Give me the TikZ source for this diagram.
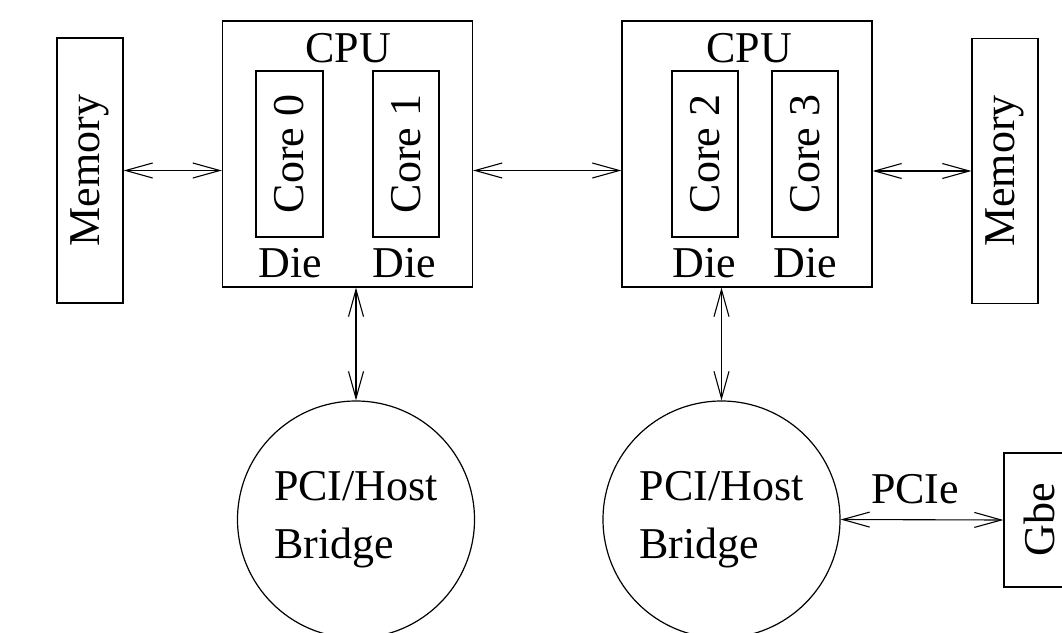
\documentclass[tikz,border=0pt]{standalone}
\usepackage{fontspec}
\setmainfont{Liberation Serif}
\usetikzlibrary{arrows.meta}
\begin{document}
\begin{tikzpicture}[x=1pt,y=-1pt,
  every node/.style={font=\fontsize{44}{58}\selectfont},
  box/.style={draw, line width=1.2pt, inner sep=0pt},
  vbox/.style={box, rotate=90},
  lbl/.style={inner sep=0pt, anchor=base},
  bridge/.style={draw, circle, line width=1.2pt, inner sep=0pt, minimum size=237pt, align=left},
  barb/.tip={Straight Barb[length=27pt,width=15pt]},
  arr/.style={barb-barb, line width=1.1pt}]
\useasboundingbox (0,0) rectangle (1062,632);
\fill[white] (0,0) rectangle (1062,632);
\clip (0,0) rectangle (1062,632);
% memories
\node[vbox, minimum width=265pt, minimum height=66pt] (mem1) at (90,170.5) {Memory};
\node[vbox, minimum width=265pt, minimum height=66pt] (mem2) at (1005,171) {Memory};
% CPUs
\node[box, minimum width=250pt, minimum height=266pt] (cpu1) at (347.5,154) {};
\node[box, minimum width=250pt, minimum height=266pt] (cpu2) at (747,154) {};
\node[lbl] (cpu1l) at (348,62) {CPU};
\node[lbl] (cpu2l) at (749,62) {CPU};
% cores
\node[vbox, minimum width=166pt, minimum height=67pt] (c0) at (289.5,154) {Core 0};
\node[vbox, minimum width=166pt, minimum height=66pt] (c1) at (406,154) {Core 1};
\node[vbox, minimum width=166pt, minimum height=66pt] (c2) at (705,154) {Core 2};
\node[vbox, minimum width=166pt, minimum height=66pt] (c3) at (805,154) {Core 3};
\node[lbl] (d0) at (290,277) {Die};
\node[lbl] (d1) at (404,277) {Die};
\node[lbl] (d2) at (704,277) {Die};
\node[lbl] (d3) at (805,277) {Die};
% bridges
\node[bridge] (b1) at (356,519.5) {PCI/Host\\Bridge};
\node[bridge] (b2) at (721.5,519.5) {PCI/Host\\Bridge};
% Gbe
\node[box, minimum width=72pt, minimum height=134pt] (gbe) at (1040,520) {};
\node[rotate=90, inner sep=0pt] (gbel) at (1039,520) {Gbe};
\node[lbl] (pcie) at (915,503) {PCIe};
% connectors
\draw[arr] (mem1.south) -- (mem1.south -| cpu1.west);
\draw[arr] (cpu1.east |- mem1.south) -- (cpu2.west |- mem1.south);
\draw[arr] (cpu2.east |- mem2.north) -- (mem2.north);
\draw[arr] (cpu1.south -| b1.north) -- (b1.north);
\draw[arr] (cpu2.south -| b2.north) -- (b2.north);
\draw[arr] (b2.east) -- (gbe.west);
\end{tikzpicture}
\end{document}
